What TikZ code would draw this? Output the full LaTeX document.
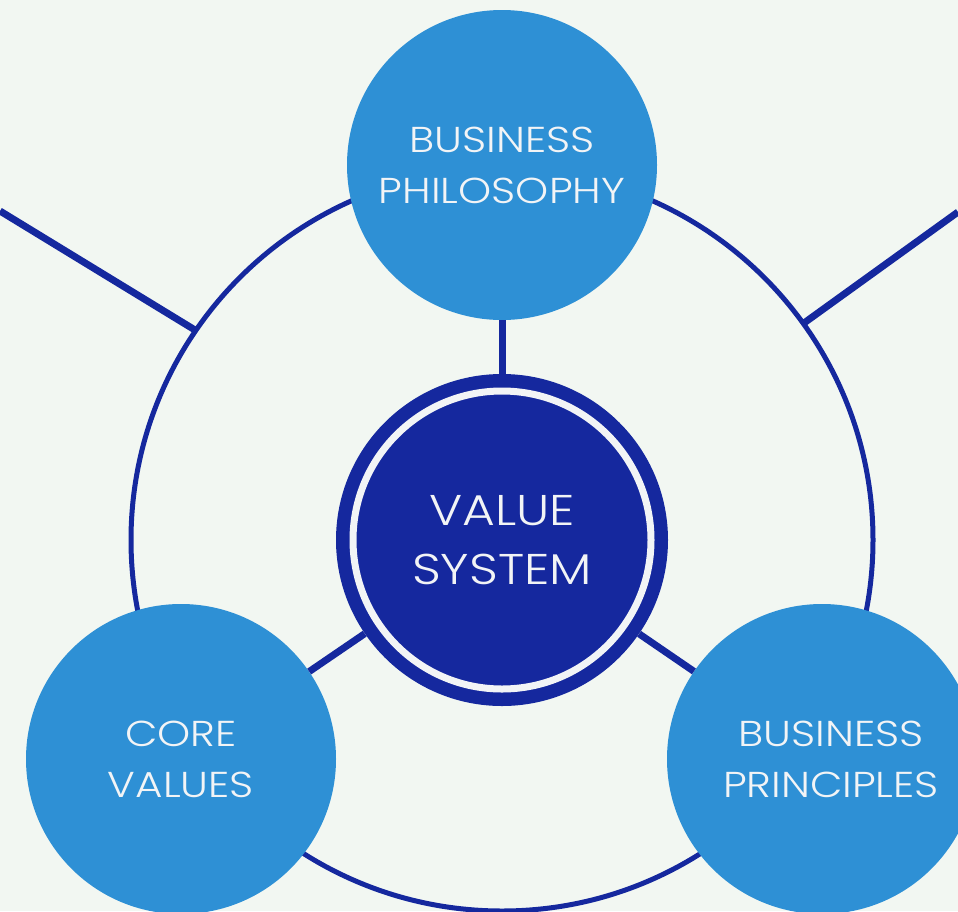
\documentclass[tikz,border=0pt]{standalone}
\usepackage{fontspec}
\setmainfont{Poppins Light}[FakeStretch=1.17]
\begin{document}
\definecolor{bgpaper}{HTML}{F2F7F2}
\definecolor{skyblue}{HTML}{2E90D5}
\definecolor{navy}{HTML}{15289E}
\definecolor{softwhite}{HTML}{F2F4F6}
\begin{tikzpicture}[x=1pt,y=-1pt,
  topictext/.style={text=softwhite, align=center,
    font=\fontsize{36}{51}\selectfont},
  topic/.style={circle, fill=skyblue, minimum size=310pt, inner sep=0pt,
    topictext},
  hub/.style={circle, fill=navy, minimum size=332pt, inner sep=0pt},
  hubcore/.style={circle, fill=navy, draw=softwhite, line width=7pt,
    minimum size=298pt, inner sep=0pt,
    text=softwhite, align=center, font=\fontsize{43}{59}\selectfont},
  spoke/.style={draw=navy, line width=7pt},
  orbit/.style={draw=navy, line width=5pt}]
  \useasboundingbox (0,0) rectangle (958,911);
  \fill[bgpaper] (0,0) rectangle (958,911);
  \clip (0,0) rectangle (958,911);

  % centre of the orbit ring and the free ends of the outer lines
  \coordinate (c) at (502,540);
  \coordinate (farleft) at (0,211);
  \coordinate (farright) at (958,212);
  \coordinate (ringleft) at (195,330);
  \coordinate (ringright) at (804,323);

  % orbit ring with its two outward lines
  \draw[orbit] (c) circle[radius=371pt];
  \draw[spoke] (farleft) -- (ringleft);
  \draw[spoke] (farright) -- (ringright);

  % the three topic circles
  \node[topic] (phil) at (502,165) {BUSINESS\\PHILOSOPHY};
  \node[topic] (core) at (181,759) {CORE\\VALUES};
  \node[topic, label={[topictext, xshift=9pt]center:BUSINESS\\PRINCIPLES}]
    (prin) at (822,759) {};

  % central hub: dark disc, white ring, dark core
  \node[hub] (hub) at (c) {};
  \node[hubcore] (value) at (c) {VALUE\\SYSTEM};

  % spokes from the hub to each topic
  \draw[spoke] (hub) -- (phil);
  \draw[spoke] (hub) -- (core);
  \draw[spoke] (hub) -- (prin);
\end{tikzpicture}
\end{document}
